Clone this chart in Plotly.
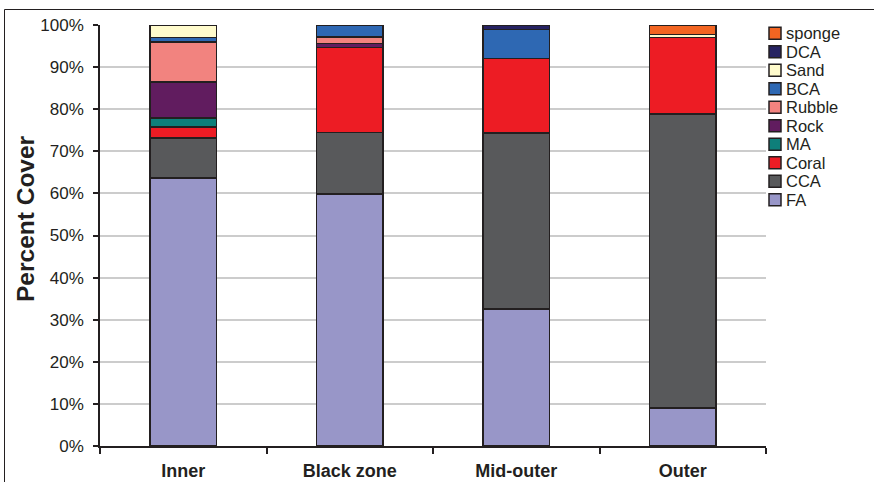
import plotly.graph_objects as go

categories = ["Inner", "Black zone", "Mid-outer", "Outer"]

FA     = [63.6, 59.8, 32.6, 9.0]
CCA    = [9.6, 14.7, 41.7, 69.9]
Coral  = [2.6, 20.2, 17.8, 18.1]
MA     = [2.1, 0.0, 0.0, 0.0]
Rock   = [8.6, 0.9, 0.0, 0.0]
Rubble = [9.5, 1.5, 0.0, 0.0]
BCA    = [1.0, 2.9, 6.8, 0.0]
Sand   = [3.0, 0.0, 0.0, 0.8]
DCA    = [0.0, 0.0, 1.1, 0.0]
sponge = [0.0, 0.0, 0.0, 2.2]

series = [
    ("FA", FA, "#9896c8"),
    ("CCA", CCA, "#58595b"),
    ("Coral", Coral, "#ed1c24"),
    ("MA", MA, "#0e7f7a"),
    ("Rock", Rock, "#611c5f"),
    ("Rubble", Rubble, "#f2837f"),
    ("BCA", BCA, "#2e68b3"),
    ("Sand", Sand, "#fffbcc"),
    ("DCA", DCA, "#262262"),
    ("sponge", sponge, "#f26522"),
]

yticks = [0, 10, 20, 30, 40, 50, 60, 70, 80, 90, 100]
ytick_labels = [f"{v}%" for v in yticks]

W, H = 874, 482
ML, MR, MT, MB = 100, 108, 25, 36
PW, PH = W - ML - MR, H - MT - MB


def px2x(px):
    return (px - ML) / PW


def py2y(py):
    return (H - MB - py) / PH


DARK = "#231f20"
font_main = "Liberation Sans, Arial, sans-serif"

fig = go.Figure()
for name, vals, color in series:
    fig.add_trace(go.Bar(
        x=categories, y=vals, name=name,
        marker=dict(color=color, line=dict(color=DARK, width=1.5)),
        width=0.4, showlegend=False,
    ))

# manual legend (reverse order, sponge on top)
shapes = []
annotations = []
for i, (name, vals, color) in enumerate(reversed(series)):
    cy = 33.3 + 18.5 * i
    shapes.append(dict(
        type="rect", xref="paper", yref="paper",
        x0=px2x(769), x1=px2x(781), y0=py2y(cy + 6), y1=py2y(cy - 6),
        fillcolor=color, line=dict(color=DARK, width=1.5),
    ))
    annotations.append(dict(
        text=name, xref="paper", yref="paper",
        x=px2x(784), y=py2y(cy), xanchor="left", yanchor="middle",
        showarrow=False,
        font=dict(family=font_main, size=16.5, color=DARK),
    ))

annotations.append(dict(
    text="<b>Percent Cover</b>", xref="paper", yref="paper",
    x=px2x(25), y=py2y(219), xanchor="center", yanchor="middle",
    textangle=-90, showarrow=False,
    font=dict(family=font_main, size=24.5, color=DARK),
))

# outer frame (top and left edges)
shapes.append(dict(
    type="line", xref="paper", yref="paper",
    x0=px2x(4.5), x1=px2x(W + 5), y0=py2y(9.5), y1=py2y(9.5),
    line=dict(color=DARK, width=1),
))
shapes.append(dict(
    type="line", xref="paper", yref="paper",
    x0=px2x(4.5), x1=px2x(4.5), y0=py2y(9.5), y1=py2y(H + 5),
    line=dict(color=DARK, width=1),
))

fig.update_layout(
    width=W, height=H,
    barmode="stack",
    plot_bgcolor="white", paper_bgcolor="white",
    margin=dict(l=ML, r=MR, t=MT, b=MB, autoexpand=False),
    showlegend=False,
    xaxis=dict(
        type="category",
        tickson="boundaries",
        ticks="outside", ticklen=6, tickcolor=DARK, tickwidth=1.5,
        showline=True, linecolor=DARK, linewidth=1.5,
        showgrid=False, automargin=False,
        tickfont=dict(family=font_main, size=18, color=DARK, weight="bold"),
        ticklabelstandoff=8,
    ),
    yaxis=dict(
        range=[0, 100],
        tickvals=yticks, ticktext=ytick_labels,
        ticks="outside", ticklen=5, tickcolor=DARK, tickwidth=1.5,
        showline=True, linecolor=DARK, linewidth=1.5,
        showgrid=True, gridcolor="#cccccc", gridwidth=1.5,
        zeroline=False, automargin=False,
        tickfont=dict(family=font_main, size=17, color=DARK),
        ticklabelstandoff=6,
    ),
    annotations=annotations,
    shapes=shapes,
)

fig.write_html(
    "out.html",
    config={"displayModeBar": False},
    post_script="document.body.style.margin='0';document.body.style.padding='0';document.body.style.overflow='hidden';",
)
